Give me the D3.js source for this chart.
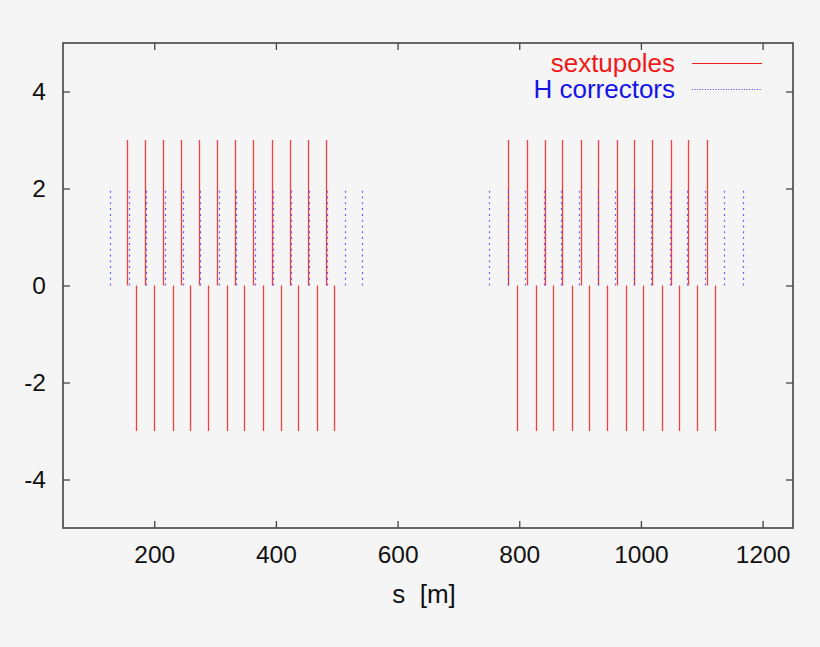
<!DOCTYPE html>
<html>
<head>
<meta charset="utf-8">
<script src="https://cdn.jsdelivr.net/npm/d3@7"></script>
<style>
  html, body { margin: 0; padding: 0; background: #f5f5f5; }
  svg { display: block; font-family: "Liberation Sans", Arial, sans-serif; }
</style>
</head>
<body>
<div id="chart"></div>
<script>
// positions along the ring, s [m]
const sextPos = [155, 185, 214, 244, 274, 303, 333, 363, 393, 423, 452, 482,
                 782, 812, 842, 871, 901, 930, 960, 989, 1019, 1049, 1078, 1108];
const sextNeg = [170, 200, 230, 259, 289, 319, 348, 378, 408, 437, 467, 496,
                 797, 827, 856, 886, 915, 945, 975, 1004, 1034, 1063, 1093, 1122];
const hCorr = [128, 158, 187, 217, 247, 276, 306, 335, 365, 395, 425, 454, 484, 513, 541,
               751, 781, 810, 840, 869, 899, 929, 958, 988, 1017, 1047, 1076, 1106, 1137, 1167];

const sextPosVal = 3;
const sextNegVal = -3;
const hCorrVal = 2;

const xTicks = [200, 400, 600, 800, 1000, 1200];
const yTicks = [-4, -2, 0, 2, 4];

const width = 820;
const height = 647;
const plot = {left: 63, right: 793, top: 43, bottom: 528};

const x = d3.scaleLinear().domain([50, 1250]).range([plot.left, plot.right]);
const y = d3.scaleLinear().domain([-5, 5]).range([plot.bottom, plot.top]);

const svg = d3.select("#chart")
  .append("svg")
  .attr("width", width)
  .attr("height", height);

svg.append("rect")
  .attr("width", width)
  .attr("height", height)
  .attr("fill", "#f5f5f5");

// impulses
const sextData = sextPos.map(s => ({s: s, v: sextPosVal}))
  .concat(sextNeg.map(s => ({s: s, v: sextNegVal})));

svg.append("g")
  .selectAll("line")
  .data(sextData)
  .join("line")
  .attr("x1", d => Math.round(x(d.s)) + 0.5)
  .attr("x2", d => Math.round(x(d.s)) + 0.5)
  .attr("y1", y(0))
  .attr("y2", d => y(d.v))
  .attr("stroke", "#f02020")
  .attr("stroke-opacity", 0.85)
  .attr("stroke-width", 1.3);

svg.append("g")
  .selectAll("line")
  .data(hCorr)
  .join("line")
  .attr("x1", d => Math.round(x(d)) + 0.5)
  .attr("x2", d => Math.round(x(d)) + 0.5)
  .attr("y1", y(0))
  .attr("y2", y(hCorrVal))
  .attr("stroke", "#4040ff")
  .attr("stroke-opacity", 0.8)
  .attr("stroke-width", 1.2)
  .attr("stroke-dasharray", "2,3.8");

// axes, ticks pointing inwards on all four sides
const axisColor = "#444";
const plainNum = d => String(d);   // hyphen minus like gnuplot
const styleAxis = (g) => {
  g.select(".domain").remove();
  g.selectAll(".tick line").attr("stroke", axisColor).attr("stroke-width", 1.3);
  g.selectAll(".tick text")
    .attr("fill", "#111")
    .style("font-size", "24.5px")
    .style("font-family", "'Liberation Sans', Arial, sans-serif");
};

svg.append("g")
  .attr("transform", `translate(0,${plot.bottom})`)
  .call(d3.axisBottom(x).tickValues(xTicks).tickSize(-7).tickPadding(18).tickFormat(plainNum))
  .call(styleAxis);

svg.append("g")
  .attr("transform", `translate(0,${plot.top})`)
  .call(d3.axisTop(x).tickValues(xTicks).tickSize(-7).tickFormat(""))
  .call(styleAxis);

svg.append("g")
  .attr("transform", `translate(${plot.left},0)`)
  .call(d3.axisLeft(y).tickValues(yTicks).tickSize(-7).tickPadding(17).tickFormat(plainNum))
  .call(styleAxis);

svg.append("g")
  .attr("transform", `translate(${plot.right},0)`)
  .call(d3.axisRight(y).tickValues(yTicks).tickSize(-7).tickFormat(""))
  .call(styleAxis);

svg.append("rect")
  .attr("x", plot.left)
  .attr("y", plot.top)
  .attr("width", plot.right - plot.left)
  .attr("height", plot.bottom - plot.top)
  .attr("fill", "none")
  .attr("stroke", axisColor)
  .attr("stroke-width", 1.6);

// axis title
svg.append("text")
  .attr("x", 424)
  .attr("y", 603)
  .attr("text-anchor", "middle")
  .attr("fill", "#111")
  .style("font-size", "26px")
  .style("white-space", "pre")
  .text("s  [m]");

// legend
const legend = [
  {label: "sextupoles", color: "#f01818", dash: null},
  {label: "H correctors", color: "#1414e6", dash: "1,1.6"}
];

const lg = svg.append("g");
lg.selectAll("text")
  .data(legend)
  .join("text")
  .attr("x", 675)
  .attr("y", (d, i) => 72 + i * 25.5)
  .attr("text-anchor", "end")
  .attr("fill", d => d.color)
  .style("font-size", "26px")
  .text(d => d.label);

lg.selectAll("line")
  .data(legend)
  .join("line")
  .attr("x1", 692)
  .attr("x2", 762)
  .attr("y1", (d, i) => 63.5 + i * 26)
  .attr("y2", (d, i) => 63.5 + i * 26)
  .attr("stroke", (d, i) => i === 0 ? "#f02020" : "#4040ff")
  .attr("stroke-width", 1)
  .attr("stroke-dasharray", d => d.dash);
</script>
</body>
</html>
